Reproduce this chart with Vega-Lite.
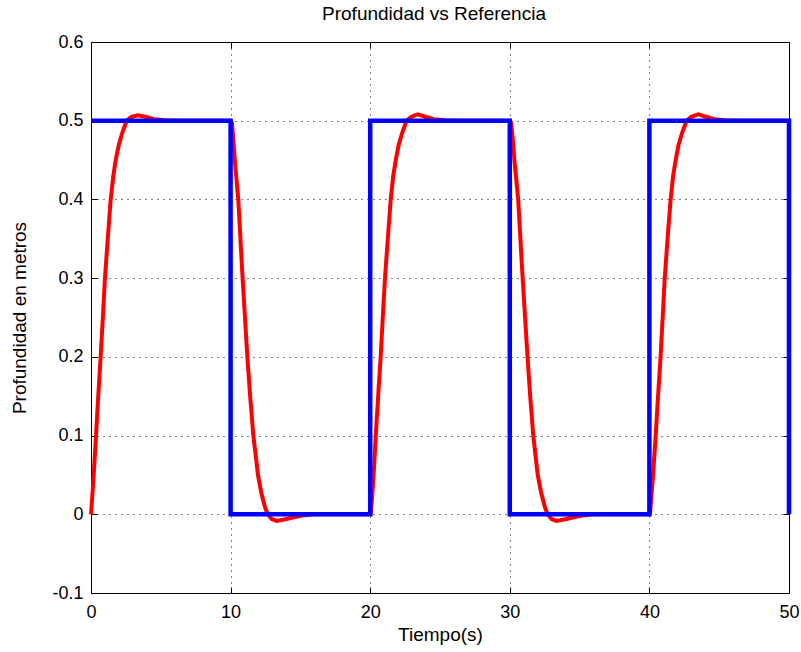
{
  "$schema": "https://vega.github.io/schema/vega-lite/v6.json",
  "width": 698,
  "height": 551,
  "autosize": "none",
  "padding": {"left": 91, "top": 42, "right": 12, "bottom": 59},
  "background": "white",
  "title": {"text": "Profundidad vs Referencia", "font": "Liberation Sans", "fontSize": 19, "fontWeight": "normal", "color": "black", "offset": 9, "frame": "group", "anchor": "middle", "dx": -6},
  "config": {
    "view": {"stroke": "black", "strokeWidth": 1},
    "axis": {"labelFont": "Liberation Sans", "labelFontSize": 18, "labelColor": "black", "titleFont": "Liberation Sans", "titleFontSize": 19, "titleFontWeight": "normal", "titleColor": "black", "domainColor": "black", "tickColor": "black", "gridColor": "black", "gridOpacity": 1, "gridDash": [1, 5], "gridWidth": 1}
  },
  "resolve": {"axis": {"x": "independent", "y": "independent"}},
  "layer": [
    {
      "data": {"values": [
        {"t":0,"v":0},{"t":0.1,"v":0.025},{"t":0.2,"v":0.052},{"t":0.36,"v":0.1},{"t":0.52,"v":0.15},{"t":0.69,"v":0.2},{"t":0.85,"v":0.25},{"t":1.0,"v":0.3},{"t":1.2,"v":0.35},{"t":1.41,"v":0.4},{"t":1.6,"v":0.43},{"t":1.77,"v":0.45},{"t":2.0,"v":0.47},{"t":2.25,"v":0.485},{"t":2.55,"v":0.5},{"t":2.9,"v":0.505},{"t":3.36,"v":0.507},{"t":3.9,"v":0.505},{"t":4.5,"v":0.502},{"t":5.3,"v":0.5005},{"t":6.5,"v":0.5},{"t":10.0,"v":0.5},
        {"t":10.1,"v":0.497},{"t":10.2,"v":0.475},{"t":10.3,"v":0.45},{"t":10.55,"v":0.4},{"t":10.86,"v":0.3},{"t":11.2,"v":0.2},{"t":11.4,"v":0.15},{"t":11.63,"v":0.1},{"t":11.96,"v":0.05},{"t":12.2,"v":0.027},{"t":12.45,"v":0.01},{"t":12.65,"v":0},{"t":12.95,"v":-0.006},{"t":13.3,"v":-0.0085},{"t":14.0,"v":-0.006},{"t":15.0,"v":-0.002},{"t":16.0,"v":0},{"t":20.0,"v":0},
        {"t":20.05,"v":0.002},{"t":20.15,"v":0.025},{"t":20.25,"v":0.052},{"t":20.4,"v":0.1},{"t":20.57,"v":0.15},{"t":20.75,"v":0.2},{"t":20.9,"v":0.25},{"t":21.06,"v":0.3},{"t":21.26,"v":0.35},{"t":21.47,"v":0.4},{"t":21.65,"v":0.43},{"t":21.83,"v":0.45},{"t":22.05,"v":0.47},{"t":22.3,"v":0.485},{"t":22.6,"v":0.5},{"t":22.95,"v":0.505},{"t":23.4,"v":0.508},{"t":23.95,"v":0.505},{"t":24.55,"v":0.502},{"t":25.35,"v":0.5005},{"t":26.5,"v":0.5},{"t":30.0,"v":0.5},
        {"t":30.1,"v":0.497},{"t":30.22,"v":0.475},{"t":30.33,"v":0.45},{"t":30.6,"v":0.4},{"t":30.92,"v":0.3},{"t":31.27,"v":0.2},{"t":31.46,"v":0.15},{"t":31.68,"v":0.1},{"t":32.0,"v":0.05},{"t":32.25,"v":0.027},{"t":32.5,"v":0.01},{"t":32.7,"v":0},{"t":33.0,"v":-0.006},{"t":33.35,"v":-0.0085},{"t":34.05,"v":-0.006},{"t":35.05,"v":-0.002},{"t":36.0,"v":0},{"t":40.0,"v":0},
        {"t":40.05,"v":0.002},{"t":40.15,"v":0.025},{"t":40.27,"v":0.052},{"t":40.45,"v":0.1},{"t":40.62,"v":0.15},{"t":40.8,"v":0.2},{"t":40.95,"v":0.25},{"t":41.1,"v":0.3},{"t":41.3,"v":0.35},{"t":41.52,"v":0.4},{"t":41.7,"v":0.43},{"t":41.88,"v":0.45},{"t":42.1,"v":0.47},{"t":42.35,"v":0.485},{"t":42.66,"v":0.5},{"t":43.0,"v":0.505},{"t":43.5,"v":0.508},{"t":44.05,"v":0.505},{"t":44.65,"v":0.502},{"t":45.4,"v":0.5005},{"t":46.5,"v":0.5},{"t":50.0,"v":0.5}
      ]},
      "mark": {"type": "line", "color": "#ff0000", "strokeWidth": 4, "clip": false},
      "encoding": {
        "x": {"field": "t", "type": "quantitative", "scale": {"domain": [0, 50], "nice": false, "zero": false},
              "axis": {"orient": "bottom", "title": "Tiempo(s)", "values": [0, 10, 20, 30, 40, 50], "grid": true, "tickSize": -6, "labelPadding": 16, "titlePadding": 4, "labelFlush": false}},
        "y": {"field": "v", "type": "quantitative", "scale": {"domain": [-0.1, 0.6], "nice": false, "zero": false},
              "axis": {"orient": "left", "title": "Profundidad en metros", "values": [-0.1, 0, 0.1, 0.2, 0.3, 0.4, 0.5, 0.6], "grid": true, "tickSize": -6, "labelPadding": 14, "titlePadding": 22,
                       "labelExpr": "datum.value == 0 ? '0' : (datum.value < 0 ? '-' + format(-datum.value, '.1f') : format(datum.value, '.1f'))"}}
      }
    },
    {
      "data": {"values": [
        {"i":0,"t":0,"v":0.5},{"i":1,"t":10,"v":0.5},{"i":2,"t":10,"v":0},{"i":3,"t":20,"v":0},{"i":4,"t":20,"v":0.5},{"i":5,"t":30,"v":0.5},{"i":6,"t":30,"v":0},{"i":7,"t":40,"v":0},{"i":8,"t":40,"v":0.5},{"i":9,"t":50,"v":0.5},{"i":10,"t":50,"v":0}
      ]},
      "mark": {"type": "line", "color": "#0000ff", "strokeWidth": 4.5, "clip": false},
      "encoding": {
        "x": {"field": "t", "type": "quantitative", "axis": {"orient": "top", "title": null, "labels": false, "grid": false, "domain": false, "tickSize": -6, "values": [0, 10, 20, 30, 40, 50]}},
        "y": {"field": "v", "type": "quantitative", "axis": {"orient": "right", "title": null, "labels": false, "grid": false, "domain": false, "tickSize": -6, "values": [-0.1, 0, 0.1, 0.2, 0.3, 0.4, 0.5, 0.6]}},
        "order": {"field": "i", "type": "quantitative"}
      }
    }
  ]
}
